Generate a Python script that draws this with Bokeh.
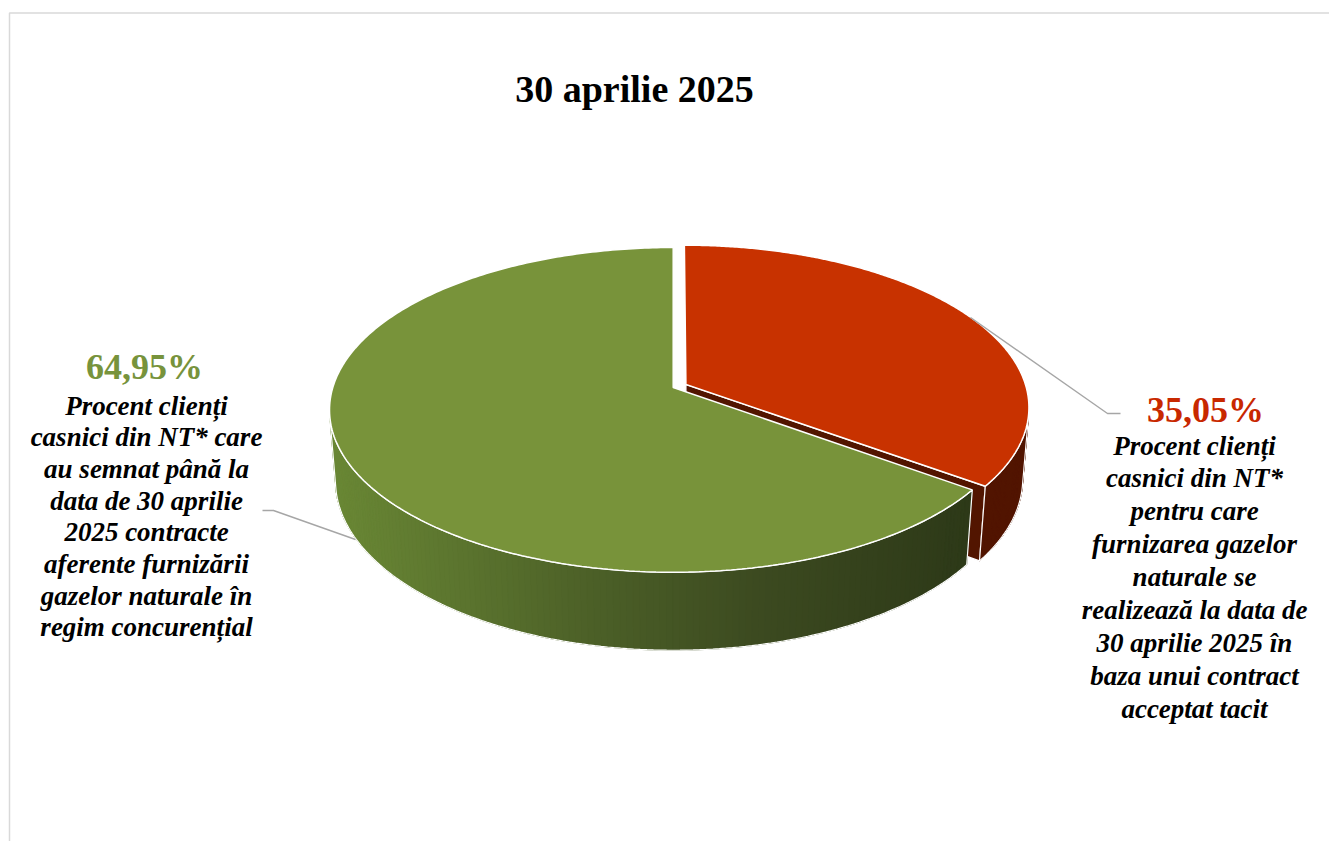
import numpy as np
from bokeh.plotting import figure
from bokeh.models import Range1d
from bokeh.core.properties import value
from bokeh.embed import file_html
from bokeh.resources import INLINE

# ---------------- data ----------------
title_text = "30 aprilie 2025"
slice_names = ["Contract acceptat tacit", "Regim concurențial"]
slice_values = [35.05, 64.95]
slice_pct_labels = ["35,05%", "64,95%"]
red_label_lines = ["Procent clienți", "casnici din NT*", "pentru care",
                   "furnizarea gazelor", "naturale se", "realizează la data de",
                   "30 aprilie 2025 în", "baza unui contract", "acceptat tacit"]
green_label_lines = ["Procent clienți", "casnici din NT* care", "au semnat până la",
                     "data de 30 aprilie", "2025 contracte", "aferente furnizării",
                     "gazelor naturale în", "regim concurențial"]

# ---------------- style ----------------
top_colors = ["#C83200", "#78933A"]
side_colors = ["#521500", "#3A4A1F"]
explode = [0.042, 0.0]
pct_colors = ["#C82800", "#77933C"]
green_wall_stops = [(0.0, (0x6A, 0x88, 0x35)), (0.42, (0x4B, 0x5F, 0x27)),
                    (0.67, (0x3C, 0x4A, 0x20)), (1.0, (0x2D, 0x39, 0x18))]

# 3D projection parameters (screen pixel units)
CX, CY = 672.7, 387.0
B = 340.4
D = 6.41
ALPHA = np.radians(27.9)
F = B * D
H = 0.2387
SA, CA = np.sin(ALPHA), np.cos(ALPHA)


def proj(X, Yd, Z):
    yc = Yd * SA + Z * CA
    zc = D + Yd * CA - Z * SA
    return CX + F * X / zc, CY - F * yc / zc


def hexcol(rgb):
    return "#%02X%02X%02X" % tuple(int(round(c)) for c in rgb)


def grad(t):
    t = min(max(t, 0.0), 1.0)
    for (t0, c0), (t1, c1) in zip(green_wall_stops[:-1], green_wall_stops[1:]):
        if t <= t1:
            u = (t - t0) / (t1 - t0)
            return hexcol([c0[i] + (c1[i] - c0[i]) * u for i in range(3)])
    return hexcol(green_wall_stops[-1][1])


p = figure(width=1329, height=841, x_range=Range1d(0, 1329), y_range=Range1d(841, 0),
           output_backend="svg", toolbar_location=None, min_border=0)
p.axis.visible = False
p.grid.visible = False
p.outline_line_color = None
p.background_fill_color = "white"
p.border_fill_color = "white"

# chart area border (top and left visible)
p.line([9, 9, 1337], [849, 12.5, 12.5], line_color="#D9D9D9", line_width=1.5)

total = sum(slice_values)
start = 90.0
slices = []
for i, v in enumerate(slice_values):
    span = 360.0 * v / total
    a0 = start
    a1 = start - span
    start = a1
    slices.append((a0, a1))

cam = np.array([0.0, -D * CA, D * SA])

for i, (a0, a1) in enumerate(slices):
    mid = np.radians((a0 + a1) / 2)
    ox, oy = explode[i] * np.cos(mid), explode[i] * np.sin(mid)

    # radial faces
    for ang, sign in ((a0, 1), (a1, -1)):
        r = np.radians(ang)
        n = np.array([-np.sin(r), np.cos(r)]) * sign
        if (cam[0] - ox) * n[0] + (cam[1] - oy) * n[1] > 0.05:
            pts3 = [(ox, oy, 0), (ox + np.cos(r), oy + np.sin(r), 0),
                    (ox + np.cos(r), oy + np.sin(r), -H), (ox, oy, -H)]
            xs, ys = zip(*[proj(*q) for q in pts3])
            p.patch(list(xs), list(ys), fill_color=side_colors[i],
                    line_color="white", line_width=1.3)

    # outer wall
    phis = np.radians(np.linspace(a1, a0, 240))
    vis = -ox * np.cos(phis) - (D * CA + oy) * np.sin(phis) - 1 > 0
    if vis.any():
        ph = phis[vis]
        tx, ty = proj(ox + np.cos(ph), oy + np.sin(ph), 0 * ph)
        bx, by = proj(ox + np.cos(ph), oy + np.sin(ph), 0 * ph - H)
        # base polygon (avoids seams between strips)
        base_col = grad(0.55) if i == 1 else side_colors[i]
        p.patch(list(tx) + list(bx[::-1]), list(ty) + list(by[::-1]),
                fill_color=base_col, line_color=None)
        sx, sy, cols = [], [], []
        for j in range(len(ph) - 1):
            sx.append([tx[j], tx[j + 1], bx[j + 1], bx[j]])
            sy.append([ty[j], ty[j + 1], by[j + 1], by[j]])
            if i == 1:
                cols.append(grad(((tx[j] + tx[j + 1]) / 2 - 330) / 640))
            else:
                cols.append(side_colors[i])
        p.patches(sx, sy, fill_color=cols, line_color=cols, line_width=1.0)
        p.patch(list(tx) + list(bx[::-1]), list(ty) + list(by[::-1]),
                fill_alpha=0, line_color="white", line_width=1.2)

    # top face
    phis = np.radians(np.linspace(a0, a1, 300))
    ax, ay = proj(np.array([ox]), np.array([oy]), np.array([0.0]))
    tx, ty = proj(ox + np.cos(phis), oy + np.sin(phis), 0 * phis)
    p.patch([ax[0]] + list(tx), [ay[0]] + list(ty), fill_color=top_colors[i],
            line_color="white", line_width=1.5)

# leader lines
p.line([970, 1107, 1120], [317, 413, 413], line_color="#A6A6A6", line_width=1.4)
p.line([262, 273, 355], [510, 510, 539], line_color="#A6A6A6", line_width=1.4)

serif = value("Liberation Serif")

# title
p.text(x=[634], y=[88], text=[title_text], text_font=serif, text_font_size="38px",
       text_font_style="bold", text_color="black", text_align="center",
       text_baseline="middle")

# percentage labels
p.text(x=[1205, 144], y=[409, 366], text=slice_pct_labels, text_font=serif,
       text_font_size="36px", text_font_style="bold", text_color=pct_colors,
       text_align="center", text_baseline="middle")

# category label lines
p.text(x=[1194] * len(red_label_lines),
       y=[445 + k * 32.9 for k in range(len(red_label_lines))],
       text=red_label_lines, text_font=serif, text_font_size="27px",
       text_font_style="bold italic", text_color="black", text_align="center",
       text_baseline="middle")
p.text(x=[146] * len(green_label_lines),
       y=[405 + k * 31.7 for k in range(len(green_label_lines))],
       text=green_label_lines, text_font=serif, text_font_size="27px",
       text_font_style="bold italic", text_color="black", text_align="center",
       text_baseline="middle")

open("out.html", "w").write(file_html(p, INLINE))
